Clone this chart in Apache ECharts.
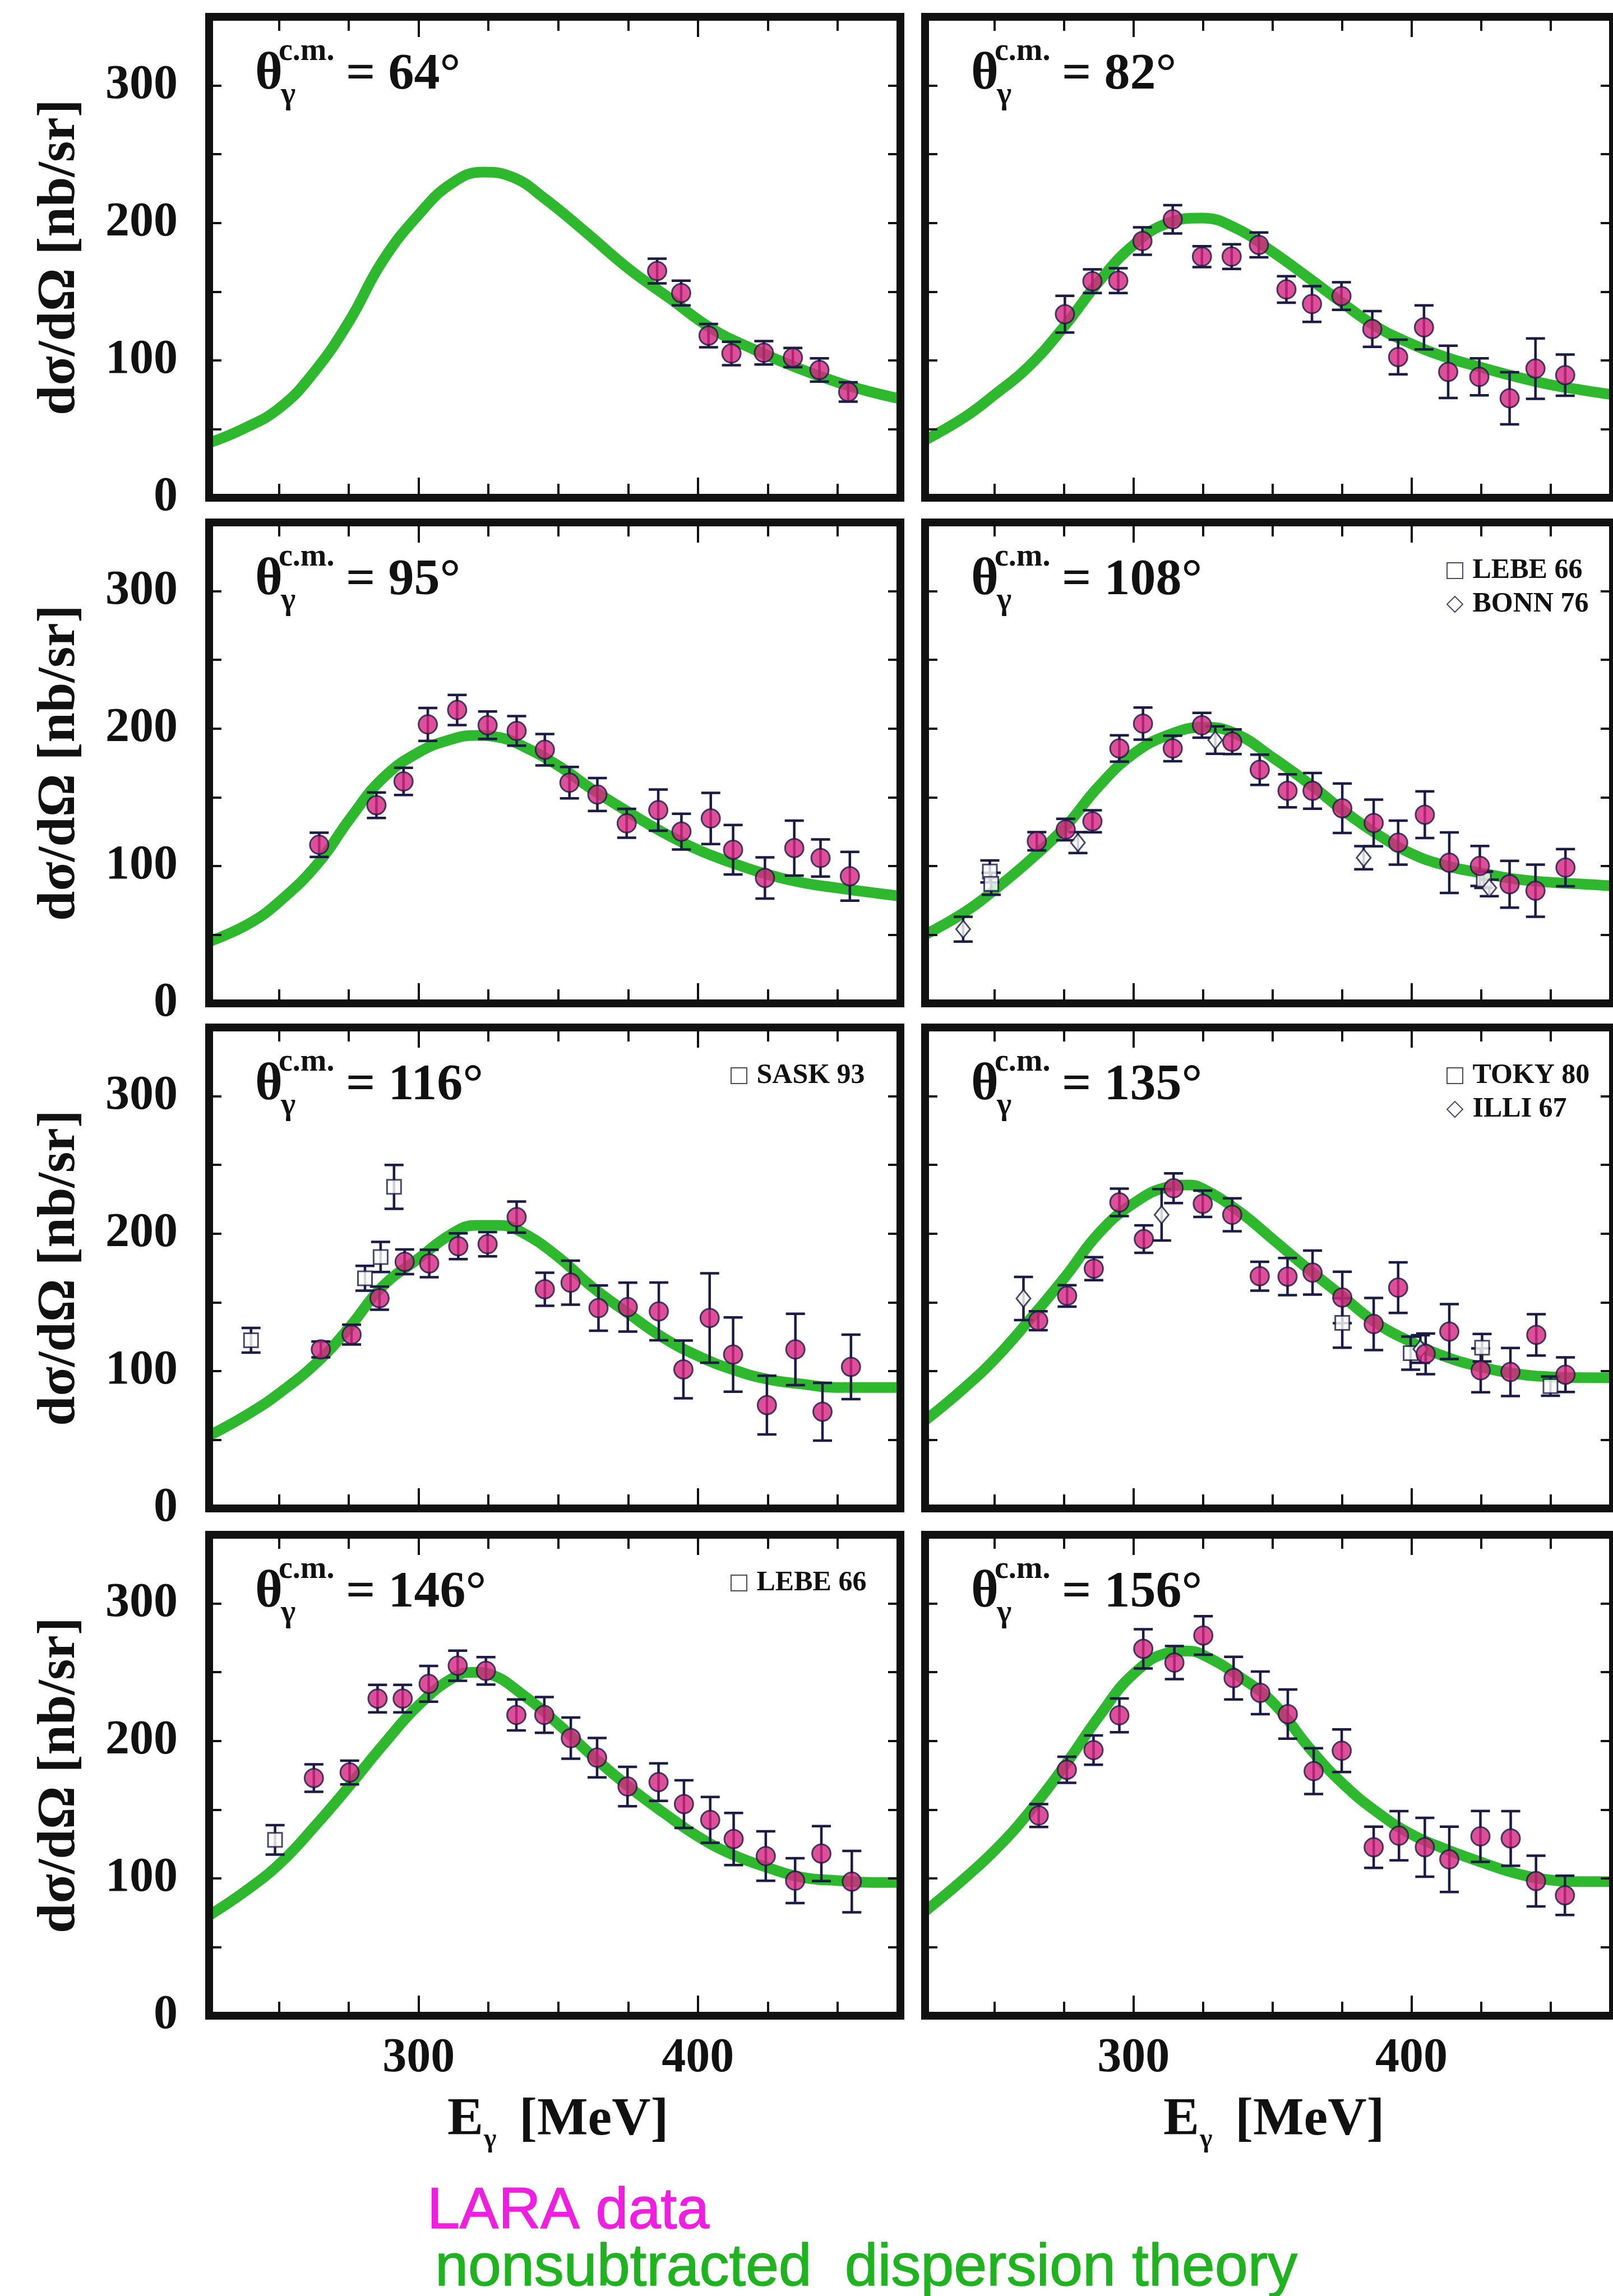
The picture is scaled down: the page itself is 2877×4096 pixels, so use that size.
<!DOCTYPE html>
<html>
<head>
<meta charset="utf-8">
<title>Compton scattering on the proton</title>
<script src="https://cdn.jsdelivr.net/npm/echarts@6.0.0/dist/echarts.min.js"></script>
<style>
  html, body { margin: 0; padding: 0; background: #fff; }
  #chart { width: 2877px; height: 4096px; }
</style>
</head>
<body>
<div id="chart"></div>
<script>
// axes: photon energy [MeV] and cross section [nb/sr]
const xRange = [225, 472.5]
const yRange = [0, 350]
const xMinorTicks = [250, 275, 325, 350, 375, 425, 450]
const xMajorTicks = [300, 400]
const yStep = 50

const angles = ['64', '82', '95', '108', '116', '135', '146', '156']

// nonsubtracted dispersion theory, [E, dsigma/dOmega]
const theory64 = [[225, 40], [237, 50], [250, 65], [262, 90], [275, 128], [287, 172], [300, 206], [312, 229], [323, 237], [334, 233], [345, 218], [360, 193], [375, 167], [390, 145], [405, 123], [420, 108], [435, 95], [450, 84], [462, 77], [472.5, 72]]
const theory82 = [[225, 42], [239.5, 59], [250, 75], [262, 95], [274.8, 124], [287.6, 157.5], [300, 184], [312.5, 200], [324.6, 203.6], [337, 196], [350, 179], [363, 160], [375, 142], [387, 125], [400, 112], [412.8, 102], [424.9, 95], [437.7, 88], [450.6, 82], [462.6, 78], [472.5, 75]]
const theory95 = [[225, 45], [239, 57.7], [250.4, 74.5], [264, 102], [275.5, 134.6], [287, 163.5], [300, 182.7], [312, 192.3], [320.5, 195], [329, 193.5], [337, 187.5], [350, 173], [362, 156], [375, 139.4], [387, 125], [400, 111.8], [412.6, 102], [425, 93.8], [437.7, 87.7], [450, 84], [462.8, 80.5], [472.5, 78]]
const theory108 = [[225, 50], [239.4, 66.6], [250.5, 83.5], [262.5, 103.8], [275.5, 128.7], [287.5, 158], [300, 181.7], [312.5, 195.3], [325.5, 201], [336.6, 196.4], [350.5, 178.3], [364.4, 158], [375, 141], [387, 124], [400, 109], [412.8, 100], [424.9, 95], [437.7, 90.4], [450.6, 88], [462.6, 86.7], [472.5, 85.5]]
const theory116 = [[225, 53], [239, 68.7], [250.4, 84.3], [264, 107], [275.5, 132.5], [287, 161.4], [300, 182], [312, 200], [320.5, 206], [329, 206], [337, 201], [350, 183], [362, 161.4], [375, 142], [387, 125], [400, 111], [412.6, 101], [425, 94], [437.7, 90.4], [450, 88], [462.8, 88], [472.5, 88]]
const theory135 = [[225, 64], [239.5, 88.4], [250.7, 110], [262.8, 137.8], [275.6, 169], [287.6, 200.5], [300, 222], [312.5, 234], [319.7, 235.4], [324.6, 233], [337.4, 217], [350.2, 195.7], [363, 174], [375, 154.7], [387, 135.4], [400, 121], [412.8, 110], [424.9, 103], [437.7, 98], [450.6, 95.7], [462.6, 95.2], [472.5, 95]]
const theory146 = [[225, 73], [238.2, 91], [250.7, 111.5], [263.3, 139], [275.3, 167.5], [287.4, 197.4], [300, 226], [312.6, 246.3], [320, 250], [325.2, 248.7], [337.7, 233], [350.3, 211.7], [362.9, 187.8], [375.5, 166.3], [388, 147.3], [400, 130.5], [412.2, 117.4], [424.7, 108], [437.3, 100.7], [450.3, 98.3], [462.5, 97], [472.5, 97]]
const theory156 = [[225, 76], [239.2, 100], [251.2, 122.6], [263.2, 150], [275.7, 183.3], [288, 219], [300, 248.8], [312.8, 264.3], [319.2, 265.5], [325.6, 262], [338.4, 246.4], [350.4, 227.4], [363.2, 195], [375.2, 169], [388, 147.6], [400, 132], [412, 121.4], [424.8, 112], [437.6, 103.6], [450, 98.8], [461.6, 97.6], [472.5, 97.6]]

// LARA data, [E, dsigma/dOmega, error]
const lara64 = [[385.4, 165, 9], [394, 149, 9], [403.8, 118, 8.5], [412, 105, 8.5], [423.6, 105.5, 8.5], [434, 102, 7], [443.5, 93, 8.5], [453.8, 77, 7]]
const lara82 = [[275.3, 133.6, 13.4], [285.2, 157.6, 8.6], [294.5, 158, 9], [303.2, 186.8, 10], [314.1, 202.6, 10.3], [324.6, 175.5, 7.6], [335.3, 175.5, 9], [345.1, 184, 9], [355, 151.6, 9.6], [364.2, 141, 13], [374.8, 146.8, 10], [385.9, 122.8, 13], [395.2, 102.4, 12.6], [404.5, 124, 16], [413.2, 91.6, 19], [424.4, 88, 13.5], [435.3, 72.4, 19], [444.6, 94, 22], [455.3, 89.2, 15]]
const lara95 = [[264.4, 115.4, 8.8], [284.9, 144.2, 9.3], [294.6, 161.5, 9.9], [303.3, 203, 12], [313.8, 213.5, 11], [324.7, 202.4, 10], [335.1, 198.3, 10.8], [345.2, 184.6, 11.4], [354, 160.6, 11.4], [364, 152, 12], [374.5, 131, 10.5], [385.8, 140.6, 15], [394.1, 125, 13], [404.6, 134.6, 18.6], [412.6, 111.8, 18], [424, 91.3, 15], [434.5, 113, 20], [443.9, 105.8, 13.5], [454.4, 92.5, 17.7]]
const lara108 = [[265.2, 118, 6.6], [275.6, 126.5, 7.8], [285.2, 132.5, 8], [294.9, 185.5, 9.6], [303.4, 203.6, 11.7], [314.1, 185.5, 9.3], [324.6, 202.4, 9], [335.5, 190.4, 9], [345.4, 170, 11], [355.4, 154.7, 12], [364.4, 154.7, 13], [375.1, 142, 18], [386.4, 131.3, 17], [395.2, 117, 16], [404.8, 137.3, 17], [413.6, 102.4, 22], [424.6, 100, 14.5], [435.3, 86.7, 17], [444.6, 82, 19], [455.4, 98.8, 13.5]]
const lara116 = [[265, 115.7, 5.8], [276, 126.5, 7.2], [286, 153, 8.4], [295, 179.5, 9], [303.8, 178.3, 10], [314.2, 190.8, 9.4], [324.7, 192.3, 8.8], [335.1, 212, 11.3], [345.2, 159.5, 12], [354.4, 164.3, 16], [364.4, 145.8, 16.5], [374.9, 146.5, 17.8], [386, 143.4, 21], [394.8, 101.2, 21], [404.2, 138.6, 32.5], [412.6, 112, 27], [424.7, 75.2, 21.4], [434.9, 115.7, 26], [444.6, 70.4, 21], [454.8, 103, 23.5]]
const lara135 = [[265.7, 136.6, 6.9], [276.1, 154.7, 7.8], [285.7, 174.5, 8.4], [294.9, 222.7, 10], [303.7, 196, 10], [314.4, 233, 10.8], [324.9, 221.7, 9.6], [335.5, 213.7, 12], [345.4, 169, 10.5], [355.4, 168.7, 13.5], [364.4, 171.6, 16], [375.1, 153.5, 18.7], [386.4, 134.2, 19], [395.2, 160.7, 18.4], [405.1, 112.5, 14.8], [413.6, 128.7, 20], [424.9, 100.5, 16], [435.6, 99.3, 17.5], [444.9, 126.3, 15], [455.4, 97.3, 12.6]]
const lara146 = [[262.5, 173, 10], [275.3, 177, 8.6], [285.3, 230.8, 10], [294.3, 230.8, 10], [303.6, 241.5, 13], [314, 254.7, 11], [324.1, 251, 10], [335, 218.9, 11.3], [345, 218.9, 13], [354.5, 202, 15], [363.9, 187.8, 14.3], [374.8, 166.8, 14.3], [385.9, 170, 13.7], [395, 154, 17.3], [404.4, 142.5, 16.7], [412.8, 128.6, 19], [424.3, 116.2, 18], [434.8, 98.3, 16.3], [444.2, 118, 20], [455.1, 97.6, 22.3]]
const lara156 = [[265.9, 145.7, 8.3], [276, 179, 9.5], [285.6, 193.3, 10.7], [294.9, 218.6, 12.3], [303.5, 267, 14.3], [314.7, 257, 12], [325.1, 276.7, 14], [336, 245.7, 15.5], [345.6, 235, 15.5], [355.5, 219.5, 17.9], [364.8, 178, 16.7], [374.9, 192.8, 15.5], [386.4, 122.6, 15], [395.5, 131, 17.9], [404.8, 122.6, 21.4], [413.6, 113.8, 23.8], [424.8, 130.5, 18.5], [435.7, 129, 19.9], [444.8, 98, 18.5], [455.2, 87.6, 14.3]]

// older experiments, [E, dsigma/dOmega, error]
const lebe108 = [[248.3, 96, 8], [248.8, 87, 8], [426, 90, 6]]
const bonn108 = [[238.7, 54, 9], [280, 117, 7.6], [329.4, 191.6, 10], [382.8, 106, 8.4], [428, 84, 6]]
const sask116 = [[240, 122.4, 9], [280.8, 167.5, 9], [286.4, 183, 11], [291.2, 234, 16]]
const toky135 = [[375.1, 135, 18], [399.7, 113, 12], [425.4, 117, 10], [450, 89, 7]]
const illi135 = [[260.4, 152.8, 15.7], [310.1, 213.7, 18.7], [403.2, 116, 10]]
const lebe146 = [[248.6, 128, 10.7]]

// layout (px)
const COL_X = [373, 1650]
const ROW_Y = [30, 932, 1833, 2738]
const PANEL_W = 1233
const PANEL_H = 858
const FRAME = 14

const INK = '#111'
const ERR = '#1b1b45'
const GREEN = '#2db82d'
const PINK = '#d4247f'
const SERIF = '"Liberation Serif", "Times New Roman", serif'

const panels = [
  { angle: angles[0], theory: theory64, lara: lara64, extra: [] },
  { angle: angles[1], theory: theory82, lara: lara82, extra: [] },
  { angle: angles[2], theory: theory95, lara: lara95, extra: [] },
  { angle: angles[3], theory: theory108, lara: lara108, extra: [
    { name: 'LEBE 66', symbol: 'rect', data: lebe108 },
    { name: 'BONN 76', symbol: 'diamond', data: bonn108 }] },
  { angle: angles[4], theory: theory116, lara: lara116, extra: [
    { name: 'SASK 93', symbol: 'rect', data: sask116 }] },
  { angle: angles[5], theory: theory135, lara: lara135, extra: [
    { name: 'TOKY 80', symbol: 'rect', data: toky135 },
    { name: 'ILLI 67', symbol: 'diamond', data: illi135 }] },
  { angle: angles[6], theory: theory146, lara: lara146, extra: [
    { name: 'LEBE 66', symbol: 'rect', data: lebe146 }] },
  { angle: angles[7], theory: theory156, lara: lara156, extra: [] }
]

function errorBar(params, api) {
  const x = api.value(0)
  const lo = api.coord([x, api.value(1)])
  const hi = api.coord([x, api.value(2)])
  const half = 17
  const style = { stroke: ERR, lineWidth: 4.5 }
  return {
    type: 'group',
    children: [
      { type: 'line', shape: { x1: lo[0], y1: lo[1], x2: hi[0], y2: hi[1] }, style },
      { type: 'line', shape: { x1: lo[0] - half, y1: lo[1], x2: lo[0] + half, y2: lo[1] }, style },
      { type: 'line', shape: { x1: hi[0] - half, y1: hi[1], x2: hi[0] + half, y2: hi[1] }, style }
    ]
  }
}

function errSeries(name, pts, xi, yi) {
  return {
    name: name, type: 'custom', xAxisIndex: xi, yAxisIndex: yi, z: 3, silent: true,
    renderItem: errorBar, encode: { x: 0, y: [1, 2] },
    data: pts.map(p => [p[0], p[1] - p[2], p[1] + p[2]])
  }
}

function xAxis(grid, pos, major, showLabels) {
  return {
    type: 'value', gridIndex: grid, position: pos, min: xRange[0], max: xRange[1], z: 10,
    axisLine: { show: !major, onZero: false, lineStyle: { color: INK, width: FRAME, cap: 'square' } },
    axisTick: { show: true, inside: true, length: major ? 36 : 25,
      customValues: major ? xMajorTicks : xMinorTicks, lineStyle: { color: INK, width: 4 } },
    axisLabel: showLabels ? {
      show: true, customValues: xMajorTicks, margin: 34,
      formatter: v => (xMajorTicks.indexOf(v) >= 0 ? String(v) : ''),
      fontFamily: SERIF, fontWeight: 'bold', fontSize: 86, color: INK
    } : { show: false },
    splitLine: { show: false }
  }
}

function yAxis(grid, pos, showLabels) {
  const ax = {
    type: 'value', gridIndex: grid, position: pos, min: yRange[0], max: yRange[1], interval: yStep, z: 10,
    axisLine: { show: true, onZero: false, lineStyle: { color: INK, width: FRAME, cap: 'square' } },
    axisTick: { show: true, inside: true, length: 22, lineStyle: { color: INK, width: 4 } },
    axisLabel: showLabels ? {
      show: true, margin: 56,
      formatter: v => (v % 100 === 0 ? String(v) : ''),
      fontFamily: SERIF, fontWeight: 'bold', fontSize: 86, color: INK
    } : { show: false },
    splitLine: { show: false }
  }
  if (showLabels) {
    ax.name = 'dσ/dΩ [nb/sr]'
    ax.nameLocation = 'middle'
    ax.nameRotate = 90
    ax.nameGap = 218
    ax.nameTextStyle = { fontFamily: SERIF, fontWeight: 'bold', fontSize: 96, color: INK }
  }
  return ax
}

function txt(x, baseline, text, size, extra) {
  return {
    type: 'text', x: x, y: baseline - 0.34 * size, z: 100, silent: true,
    style: Object.assign({
      text: text, font: 'bold ' + size + 'px ' + SERIF, fill: INK,
      align: 'left', verticalAlign: 'middle', textAlign: 'left', textVerticalAlign: 'middle'
    }, extra || {})
  }
}

const grids = []
const xAxes = []
const yAxes = []
const series = []
const graphic = []
const legends = []

panels.forEach((p, i) => {
  const row = Math.floor(i / 2)
  const col = i % 2
  const gx = COL_X[col]
  const gy = ROW_Y[row]
  grids.push({ left: gx, top: gy, width: PANEL_W, height: PANEL_H, show: false })

  const bottomRow = row === ROW_Y.length - 1
  xAxes.push(xAxis(i, 'bottom', false, false))
  xAxes.push(xAxis(i, 'bottom', true, bottomRow))
  xAxes.push(xAxis(i, 'top', false, false))
  xAxes.push(xAxis(i, 'top', true, false))
  yAxes.push(yAxis(i, 'left', col === 0))
  yAxes.push(yAxis(i, 'right', false))

  const xi = i * 4
  const yi = i * 2
  series.push({
    name: 'theory ' + p.angle, type: 'line', xAxisIndex: xi, yAxisIndex: yi, z: 2, silent: true,
    smooth: 0.45, symbol: 'none', data: p.theory,
    lineStyle: { color: GREEN, width: 19 }
  })
  p.extra.forEach(e => {
    series.push(errSeries(e.name + ' err ' + p.angle, e.data, xi, yi))
    series.push({
      name: e.name, type: 'scatter', xAxisIndex: xi, yAxisIndex: yi, z: 4, silent: true,
      symbol: e.symbol, symbolSize: e.symbol === 'rect' ? 25 : [25, 31],
      itemStyle: { color: '#fff', borderColor: ERR, borderWidth: 3 },
      data: e.data.map(d => [d[0], d[1]])
    })
  })
  series.push(errSeries('LARA err ' + p.angle, p.lara, xi, yi))
  series.push({
    name: 'LARA ' + p.angle, type: 'scatter', xAxisIndex: xi, yAxisIndex: yi, z: 5, silent: true,
    symbol: 'circle', symbolSize: 33,
    itemStyle: { color: PINK, borderColor: ERR, borderWidth: 3 },
    data: p.lara.map(d => [d[0], d[1]])
  })

  if (p.extra.length) {
    legends.push({
      data: p.extra.map(e => e.name), selectedMode: false, orient: 'vertical',
      left: gx + 930, top: gy + 61, padding: 0, itemGap: 10, itemWidth: 28, itemHeight: 28,
      formatter: name => ' ' + name,
      textStyle: { fontFamily: SERIF, fontWeight: 'bold', fontSize: 50, color: INK }
    })
  }

  // panel title: theta_gamma^c.m. = angle
  graphic.push(txt(gx + 82, gy + 136, 'θ', 94))
  graphic.push(txt(gx + 128, gy + 160, 'γ', 56))
  graphic.push(txt(gx + 124, gy + 82, 'c.m.', 56))
  graphic.push(txt(gx + 244, gy + 136, '= ' + p.angle + '°', 92))
})

// x axis names under the bottom row
const nameBase = ROW_Y[3] + PANEL_H + 220
COL_X.forEach(gx => {
  graphic.push(txt(gx + 425, nameBase, 'E', 96))
  graphic.push(txt(gx + 490, nameBase + 18, 'γ', 48))
  graphic.push(txt(gx + 553, nameBase, '[MeV]', 96))
})

graphic.push(txt(762, 3982, 'LARA data', 104,
  { font: '104px "Liberation Sans", Arial, sans-serif', fill: '#f01ee0', stroke: '#f01ee0', lineWidth: 1.5 }))
graphic.push(txt(776, 4084, 'nonsubtracted  dispersion theory', 106,
  { font: '106px "Liberation Sans", Arial, sans-serif', fill: '#1fb31f', stroke: '#1fb31f', lineWidth: 1.5 }))

const chart = echarts.init(document.getElementById('chart'))
chart.setOption({
  backgroundColor: '#fff',
  animation: false,
  grid: grids,
  xAxis: xAxes,
  yAxis: yAxes,
  legend: legends,
  series: series,
  graphic: graphic
})
</script>
</body>
</html>
